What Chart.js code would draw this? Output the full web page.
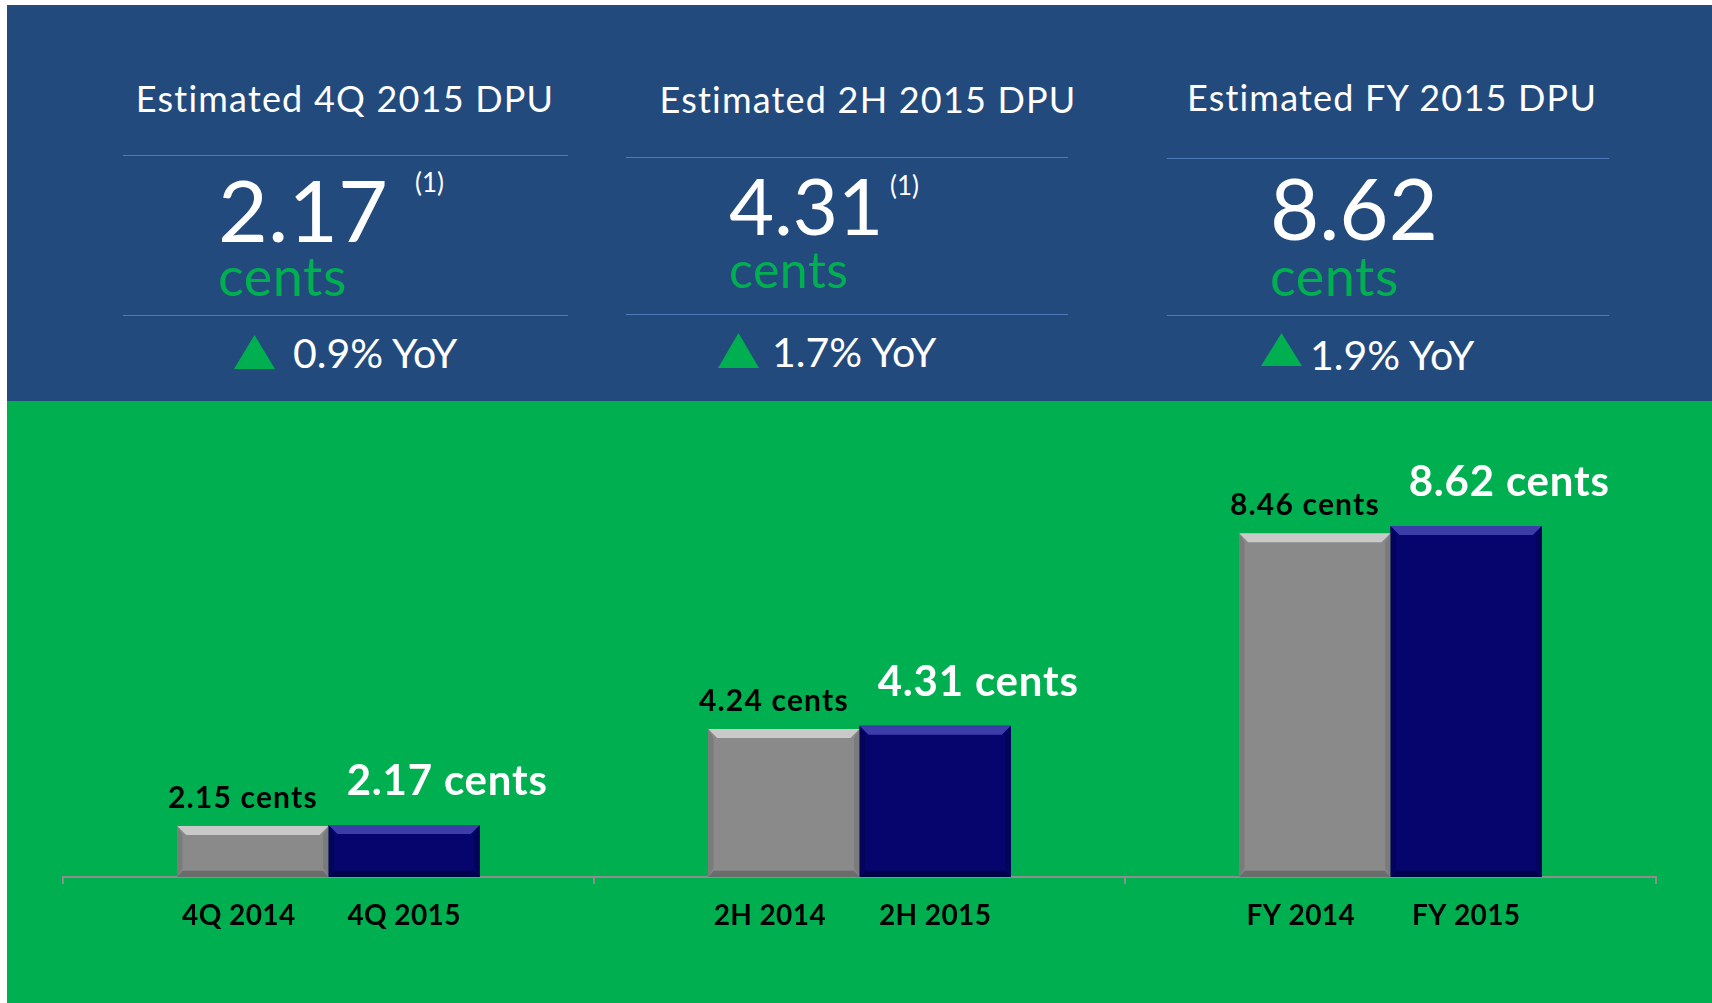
<!DOCTYPE html>
<html>
<head>
<meta charset="utf-8">
<script src="https://cdn.jsdelivr.net/npm/chart.js@4.4.1/dist/chart.umd.min.js"></script>
<style>
  body {
    margin: 0;
    width: 1712px;
    height: 1003px;
    background: #ffffff;
    position: relative;
    overflow: hidden;
    font-family: Lato, 'Open Sans', sans-serif;
  }
  #panel {
    position: absolute;
    left: 7px;
    top: 5px;
    width: 1705px;
    height: 396px;
    background: #224a7d;
  }
  #plot {
    position: absolute;
    left: 7px;
    top: 401px;
    width: 1705px;
    height: 602px;
    background: #00b050;
  }
  .t {
    position: absolute;
    white-space: nowrap;
    color: #ffffff;
  }
  .rule {
    position: absolute;
    height: 1px;
    background: #4f7cb8;
  }
  .tri {
    position: absolute;
    background: #00b050;
    clip-path: polygon(50% 0, 100% 100%, 0 100%);
  }
</style>
</head>
<body>
<div id="panel"></div>
<div id="plot"><canvas id="chart"></canvas></div>
<script>
// values
const categories = ['4Q', '2H', 'FY'];
const dpu2014 = [2.15, 4.24, 8.46];
const dpu2015 = [2.17, 4.31, 8.62];
const barLabels2014 = ['4Q 2014', '2H 2014', 'FY 2014'];
const barLabels2015 = ['4Q 2015', '2H 2015', 'FY 2015'];

const panelTitles = ['Estimated 4Q 2015 DPU', 'Estimated 2H 2015 DPU', 'Estimated FY 2015 DPU'];
const panelNotes = ['(1)', '(1)', ''];
const panelGrowth = ['0.9% YoY', '1.7% YoY', '1.9% YoY'];

const Y_MIN = 1.05;
const Y_MAX = 10.45;

const GREEN = '#00b050';

// where each block of the header sits (page pixels)
const panelLayout = [
  { lineL: 123, lineR: 568, line1: 155, line2: 315, titleX: 345, titleBase: 112, numX: 218, numBase: 242, numSize: 86, supX: 415, supBase: 192, centsBase: 297, centsSize: 54, triX: 234, triTop: 335, triBottom: 369, yoyX: 293, yoyBase: 368 },
  { lineL: 626, lineR: 1068, line1: 157, line2: 314, titleX: 868, titleBase: 113, numX: 729, numBase: 235, numSize: 78, supX: 890, supBase: 195, centsBase: 288, centsSize: 50, triX: 718, triTop: 333, triBottom: 368, yoyX: 772, yoyBase: 367 },
  { lineL: 1167, lineR: 1609, line1: 158, line2: 315, titleX: 1392, titleBase: 111, numX: 1270, numBase: 240, numSize: 85, supX: 0, supBase: 0, centsBase: 297, centsSize: 54, triX: 1261, triTop: 333, triBottom: 366, yoyX: 1310, yoyBase: 370 },
];

function placeText(text, { x, base, size, color = '#ffffff', align = 'left', weight = 400, spacing = 0 }) {
  const el = document.createElement('div');
  el.className = 't';
  el.textContent = text;
  el.style.fontSize = size + 'px';
  el.style.lineHeight = size + 'px';
  el.style.fontWeight = weight;
  el.style.letterSpacing = spacing + 'px';
  el.style.color = color;
  el.style.top = (base - 0.887 * size) + 'px';
  el.style.left = x + 'px';
  if (align === 'center') {
    el.style.transform = 'translateX(-50%)';
  }
  document.body.appendChild(el);
}

function placeRule(left, right, y) {
  const el = document.createElement('div');
  el.className = 'rule';
  el.style.left = left + 'px';
  el.style.width = (right - left) + 'px';
  el.style.top = y + 'px';
  document.body.appendChild(el);
}

function placeTriangle(x, top, bottom) {
  const el = document.createElement('div');
  el.className = 'tri';
  el.style.left = x + 'px';
  el.style.top = top + 'px';
  el.style.width = '41px';
  el.style.height = (bottom - top) + 'px';
  document.body.appendChild(el);
}

panelLayout.forEach((pos, i) => {
  placeText(panelTitles[i], { x: pos.titleX, base: pos.titleBase, size: 36, align: 'center', spacing: 1.2 });
  placeRule(pos.lineL, pos.lineR, pos.line1);
  placeText(dpu2015[i].toFixed(2), { x: pos.numX, base: pos.numBase, size: pos.numSize });
  if (panelNotes[i]) {
    placeText(panelNotes[i], { x: pos.supX, base: pos.supBase, size: 26 });
  }
  placeText('cents', { x: pos.numX, base: pos.centsBase, size: pos.centsSize, color: GREEN, spacing: 0.5 });
  placeRule(pos.lineL, pos.lineR, pos.line2);
  placeTriangle(pos.triX, pos.triTop, pos.triBottom);
  placeText(panelGrowth[i], { x: pos.yoyX, base: pos.yoyBase, size: 41 });
});

// bevelled look of the bars
const bevelStyles = [
  { top: '#c9c9c9', side: '#7b7b7b', bottom: '#6c6c6c' },
  { top: '#3d3daa', side: '#03035a', bottom: '#02024c' },
];

const bevelPlugin = {
  id: 'bevel',
  afterDatasetsDraw(chart) {
    const { ctx } = chart;
    const b = 9;
    chart.data.datasets.forEach((ds, di) => {
      const style = bevelStyles[di];
      chart.getDatasetMeta(di).data.forEach((bar) => {
        const { x, y, base, width } = bar.getProps(['x', 'y', 'base', 'width'], true);
        const l = x - width / 2;
        const r = x + width / 2;
        ctx.save();
        ctx.fillStyle = style.top;
        ctx.beginPath();
        ctx.moveTo(l, y);
        ctx.lineTo(r, y);
        ctx.lineTo(r - b, y + b);
        ctx.lineTo(l + b, y + b);
        ctx.closePath();
        ctx.fill();
        ctx.fillStyle = style.side;
        ctx.beginPath();
        ctx.moveTo(l, y);
        ctx.lineTo(l + b * 0.6, y + b);
        ctx.lineTo(l + b * 0.6, base - b);
        ctx.lineTo(l, base);
        ctx.closePath();
        ctx.fill();
        ctx.beginPath();
        ctx.moveTo(r, y);
        ctx.lineTo(r - b * 0.6, y + b);
        ctx.lineTo(r - b * 0.6, base - b);
        ctx.lineTo(r, base);
        ctx.closePath();
        ctx.fill();
        ctx.fillStyle = style.bottom;
        ctx.beginPath();
        ctx.moveTo(l, base);
        ctx.lineTo(l + b * 0.6, base - b * 0.7);
        ctx.lineTo(r - b * 0.6, base - b * 0.7);
        ctx.lineTo(r, base);
        ctx.closePath();
        ctx.fill();
        ctx.restore();
      });
    });
  },
};

// value labels over the bars and year labels under them
const labelPlugin = {
  id: 'barText',
  afterDatasetsDraw(chart) {
    const { ctx } = chart;
    const oldBars = chart.getDatasetMeta(0).data;
    const newBars = chart.getDatasetMeta(1).data;
    const axisY = chart.chartArea.bottom;
    ctx.save();
    ctx.textAlign = 'center';
    ctx.textBaseline = 'alphabetic';

    ctx.font = 'bold 30px Lato, sans-serif';
    ctx.letterSpacing = '1.2px';
    ctx.fillStyle = '#000000';
    oldBars.forEach((bar, i) => {
      ctx.fillText(`${dpu2014[i].toFixed(2)} cents`, bar.x - 10, bar.y - 18);
    });

    ctx.font = 'bold 42px Lato, sans-serif';
    ctx.letterSpacing = '0.8px';
    ctx.fillStyle = '#ffffff';
    newBars.forEach((bar, i) => {
      ctx.fillText(`${dpu2015[i].toFixed(2)} cents`, bar.x + 43, bar.y - 30);
    });

    ctx.font = 'bold 28px Lato, sans-serif';
    ctx.letterSpacing = '0.4px';
    ctx.fillStyle = '#000000';
    oldBars.forEach((bar, i) => {
      ctx.fillText(barLabels2014[i], bar.x - 14, axisY + 48);
    });
    newBars.forEach((bar, i) => {
      ctx.fillText(barLabels2015[i], bar.x, axisY + 48);
    });
    ctx.restore();
  },
};

Chart.defaults.font.family = 'Lato, sans-serif';

const chartInstance = new Chart(document.getElementById('chart').getContext('2d'), {
  type: 'bar',
  data: {
    labels: categories,
    datasets: [
      {
        label: '2014',
        data: dpu2014,
        base: Y_MIN,
        backgroundColor: '#8a8a8a',
        borderWidth: 0,
        barPercentage: 1,
        categoryPercentage: 0.57,
      },
      {
        label: '2015',
        data: dpu2015,
        base: Y_MIN,
        backgroundColor: '#05056d',
        borderWidth: 0,
        barPercentage: 1,
        categoryPercentage: 0.57,
      },
    ],
  },
  options: {
    responsive: true,
    maintainAspectRatio: false,
    animation: false,
    layout: {
      padding: { top: 40, bottom: 119, left: 56, right: 56 },
    },
    plugins: {
      legend: { display: false },
      tooltip: { enabled: false },
    },
    scales: {
      x: {
        ticks: { display: false },
        grid: {
          drawOnChartArea: false,
          drawTicks: true,
          tickLength: 7,
          color: '#8e8e8e',
          lineWidth: 2,
        },
        border: { color: '#8e8e8e', width: 2 },
      },
      y: {
        display: false,
        min: Y_MIN,
        max: Y_MAX,
      },
    },
  },
  plugins: [bevelPlugin, labelPlugin],
});
</script>
</body>
</html>
